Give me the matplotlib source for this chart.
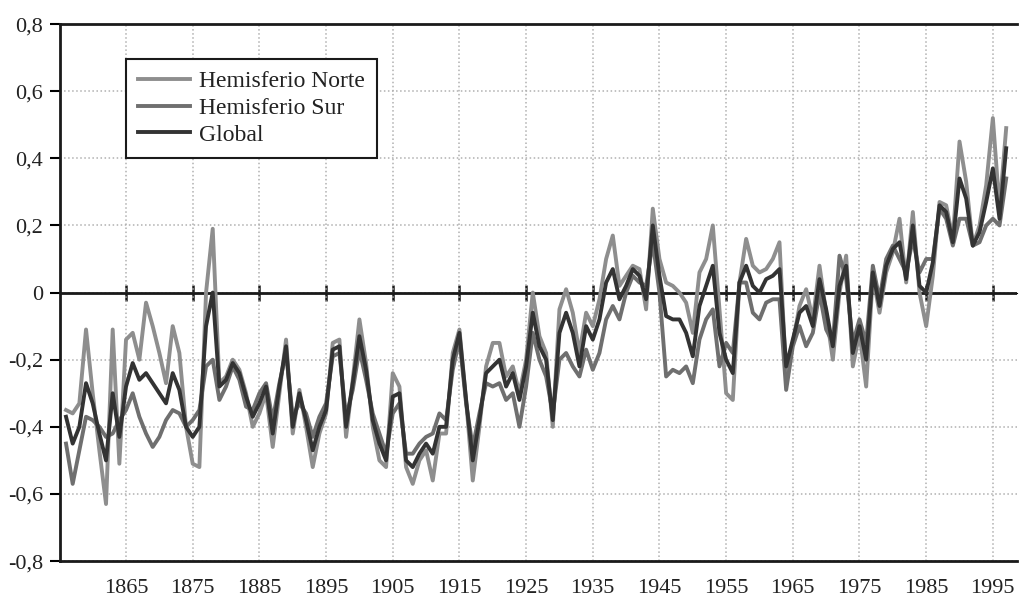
import matplotlib
matplotlib.use("Agg")
import matplotlib.pyplot as plt
import numpy as np

years = list(range(1856, 1998))

norte = [-0.35, -0.36, -0.33, -0.11, -0.30, -0.47, -0.63, -0.11, -0.51, -0.14,
         -0.12, -0.20, -0.03, -0.10, -0.18, -0.27, -0.10, -0.18, -0.40, -0.51,
         -0.52, 0.00, 0.19, -0.27, -0.25, -0.20, -0.23, -0.30, -0.40, -0.36,
         -0.30, -0.46, -0.30, -0.14, -0.42, -0.29, -0.40, -0.52, -0.42, -0.36,
         -0.15, -0.14, -0.43, -0.26, -0.08, -0.21, -0.40, -0.50, -0.52, -0.24,
         -0.28, -0.52, -0.57, -0.50, -0.47, -0.56, -0.42, -0.42, -0.18, -0.11,
         -0.32, -0.56, -0.40, -0.22, -0.15, -0.15, -0.25, -0.22, -0.30, -0.20,
         0.00, -0.13, -0.18, -0.40, -0.05, 0.01, -0.06, -0.18, -0.06, -0.10,
         -0.02, 0.10, 0.17, 0.02, 0.05, 0.08, 0.07, -0.05, 0.25, 0.10,
         0.03, 0.02, 0.00, -0.03, -0.12, 0.06, 0.10, 0.20, -0.05, -0.30,
         -0.32, 0.03, 0.16, 0.08, 0.06, 0.07, 0.10, 0.15, -0.25, -0.15,
         -0.04, 0.01, -0.08, 0.08, -0.06, -0.20, 0.00, 0.11, -0.22, -0.12,
         -0.28, 0.05, -0.06, 0.06, 0.12, 0.22, 0.03, 0.24, 0.00, -0.10,
         0.05, 0.27, 0.26, 0.16, 0.45, 0.33, 0.14, 0.20, 0.32, 0.52,
         0.25, 0.49]

sur = [-0.45, -0.57, -0.47, -0.37, -0.38, -0.40, -0.43, -0.42, -0.38, -0.35,
       -0.30, -0.37, -0.42, -0.46, -0.43, -0.38, -0.35, -0.36, -0.40, -0.38,
       -0.35, -0.22, -0.20, -0.32, -0.28, -0.22, -0.26, -0.34, -0.35, -0.30,
       -0.27, -0.38, -0.27, -0.18, -0.37, -0.33, -0.36, -0.43, -0.37, -0.33,
       -0.19, -0.18, -0.37, -0.29, -0.17, -0.26, -0.36, -0.42, -0.48, -0.36,
       -0.33, -0.48, -0.48, -0.45, -0.43, -0.42, -0.36, -0.38, -0.23, -0.14,
       -0.33, -0.46, -0.36, -0.27, -0.28, -0.27, -0.32, -0.30, -0.40, -0.28,
       -0.12, -0.20, -0.25, -0.36, -0.20, -0.18, -0.22, -0.25, -0.17, -0.23,
       -0.18, -0.08, -0.04, -0.08, 0.00, 0.05, 0.03, 0.02, 0.15, 0.00,
       -0.25, -0.23, -0.24, -0.22, -0.27, -0.14, -0.08, -0.05, -0.22, -0.15,
       -0.18, 0.03, 0.03, -0.06, -0.08, -0.03, -0.02, -0.02, -0.29, -0.16,
       -0.10, -0.16, -0.12, 0.00, -0.11, -0.15, 0.11, 0.04, -0.15, -0.08,
       -0.15, 0.08, -0.02, 0.10, 0.14, 0.10, 0.06, 0.16, 0.06, 0.10,
       0.10, 0.25, 0.22, 0.14, 0.22, 0.22, 0.14, 0.15, 0.20, 0.22,
       0.20, 0.34]

glob = [-0.37, -0.45, -0.40, -0.27, -0.33, -0.42, -0.50, -0.30, -0.43, -0.28,
        -0.21, -0.26, -0.24, -0.27, -0.30, -0.33, -0.24, -0.29, -0.40, -0.43,
        -0.40, -0.10, 0.00, -0.28, -0.26, -0.21, -0.24, -0.31, -0.37, -0.33,
        -0.28, -0.42, -0.28, -0.16, -0.40, -0.30, -0.38, -0.47, -0.40, -0.35,
        -0.17, -0.16, -0.40, -0.27, -0.13, -0.23, -0.38, -0.45, -0.50, -0.31,
        -0.30, -0.50, -0.52, -0.48, -0.45, -0.48, -0.40, -0.40, -0.20, -0.12,
        -0.32, -0.50, -0.38, -0.24, -0.22, -0.20, -0.28, -0.24, -0.32, -0.22,
        -0.06, -0.16, -0.20, -0.38, -0.12, -0.06, -0.12, -0.22, -0.10, -0.14,
        -0.08, 0.03, 0.07, -0.02, 0.02, 0.07, 0.05, -0.02, 0.20, 0.05,
        -0.07, -0.08, -0.08, -0.12, -0.19, -0.04, 0.02, 0.08, -0.12, -0.20,
        -0.24, 0.03, 0.08, 0.02, 0.00, 0.04, 0.05, 0.07, -0.22, -0.14,
        -0.06, -0.04, -0.10, 0.04, -0.05, -0.16, 0.02, 0.08, -0.18, -0.10,
        -0.20, 0.06, -0.04, 0.08, 0.13, 0.15, 0.04, 0.20, 0.02, 0.00,
        0.09, 0.26, 0.24, 0.15, 0.34, 0.28, 0.14, 0.18, 0.27, 0.37,
        0.22, 0.43]

tick_years = list(range(1865, 1996, 10))
y_ticks = [0.8, 0.6, 0.4, 0.2, 0.0, -0.2, -0.4, -0.6, -0.8]
y_labels = ["0,8", "0,6", "0,4", "0,2", "0", "-0,2", "-0,4", "-0,6", "-0,8"]

plt.rcParams['font.family'] = ['Liberation Serif', 'DejaVu Serif']

fig = plt.figure(figsize=(10.19, 6.02), dpi=100)
ax = fig.add_axes([0.0589, 0.068, 0.939, 0.892])

ax.plot(years, norte, color='#8e8e8e', lw=2.8, label='Hemisferio Norte', zorder=3)
ax.plot(years, sur, color='#6f6f6f', lw=2.8, label='Hemisferio Sur', zorder=3)
ax.plot(years, glob, color='#333333', lw=2.8, label='Global', zorder=4)

ax.axhline(0, color='#1a1a1a', lw=2, zorder=2.5)

ax.set_xlim(1855.1, 1998.6)
ax.set_ylim(-0.8, 0.8)
ax.set_xticks(tick_years)
ax.set_xticklabels([str(y) for y in tick_years], fontsize=16, color='#222222')
ax.set_yticks(y_ticks)
ax.set_yticklabels(y_labels, fontsize=16, color='#222222')
ax.tick_params(axis='x', length=0, pad=13)
ax.tick_params(axis='y', length=7, width=1.5, direction='out', pad=5)

ax.grid(True, color='#b0b0b0', linestyle=':', linewidth=1.1)
for s in ['left', 'top', 'bottom']:
    ax.spines[s].set_linewidth(2)
    ax.spines[s].set_color('#1a1a1a')
ax.spines['right'].set_visible(False)

sec = ax.secondary_xaxis(0.5)
sec.set_xticks(tick_years)
sec.set_xticklabels([])
sec.tick_params(length=12, width=1.8, direction='inout', color='#1a1a1a')
sec.spines['bottom'].set_visible(False)

leg = ax.legend(loc='upper left', bbox_to_anchor=(0.069, 0.935), borderaxespad=0,
                fancybox=False, edgecolor='#1a1a1a', fontsize=17, handlelength=2.2,
                handletextpad=0.4, borderpad=0.5, labelspacing=0.22, framealpha=1)
leg.get_frame().set_linewidth(1.5)
for t in leg.get_texts():
    t.set_color('#222222')

fig.savefig('out.png', dpi=100)
